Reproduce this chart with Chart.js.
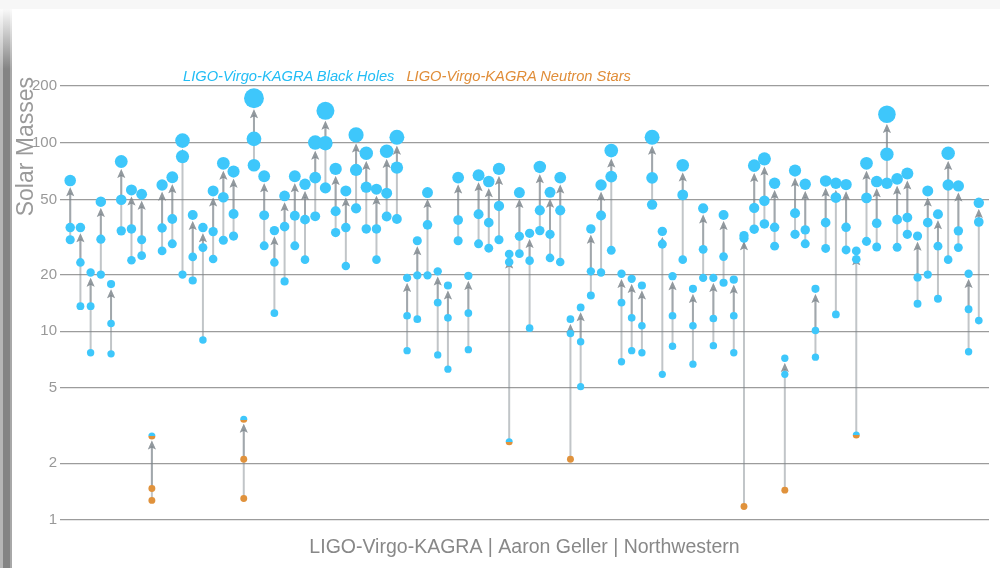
<!DOCTYPE html>
<html>
<head>
<meta charset="utf-8">
<title>Masses in the Stellar Graveyard</title>
<script src="https://cdn.jsdelivr.net/npm/chart.js@4.4.1/dist/chart.umd.min.js"></script>
<style>
    html, body { margin: 0; padding: 0; background: #fff; }
    body { width: 1000px; height: 568px; position: relative; overflow: hidden; font-family: "Liberation Sans", Arial, sans-serif; }
    #top-edge { position: absolute; left: 0; top: 0; width: 1000px; height: 9px; background: #f7f7f7; }
    #side-edge { position: absolute; left: 0; top: 9px; width: 12px; height: 559px;
        background: linear-gradient(to right, #b6b6b6 0, #b6b6b6 3px, #848484 3px, #848484 10px, #a8a8a8 10px); }
    #side-fade { position: absolute; left: 0; top: 9px; width: 12px; height: 60px;
        background: linear-gradient(to bottom, rgba(255,255,255,0.95), rgba(255,255,255,0)); }
    #graveyard { position: absolute; left: 0; top: 0; }
    #legend { position: absolute; left: 183px; top: 67px; font-size: 14.7px; line-height: 18px; font-style: italic; white-space: nowrap; }
    #legend .bh { color: #22bdf5; }
    #legend .ns { color: #e08d38; margin-left: 12px; }
</style>
</head>
<body>
<div id="top-edge"></div>
<div id="side-edge"></div>
<div id="side-fade"></div>
<canvas id="graveyard" width="1000" height="568"></canvas>
<div id="legend"><span class="bh">LIGO-Virgo-KAGRA Black Holes</span><span class="ns">LIGO-Virgo-KAGRA Neutron Stars</span></div>

<script>
// primary mass, secondary mass and remnant mass of each merger, in solar masses
const m1 = [
    35.5, 23.2, 13.6, 30.8, 11.0, 49.8, 34.9, 30.6, 1.47, 35.3,
    39.4, 84.4, 24.8, 27.8, 33.8, 51.4, 41.9, 2.10, 104.8, 41.2,
    23.2, 35.9, 41.0, 39.1, 65.3, 99.4, 43.3, 35.5, 71.7, 58.1,
    34.9, 54.0, 73.8, 12.1, 19.8, 36.7, 14.2, 11.8, 38.9, 12.5,
    41.8, 37.7, 46.2, 23.3, 31.9, 23.7, 43.8, 32.7, 43.8, 9.73,
    8.82, 20.8, 41.1, 66.1, 14.2, 11.8, 10.7, 65.1, 29.0, 12.1,
    52.9, 10.7, 27.2, 11.7, 24.9, 12.1, 31.2, 45.1, 49.3, 35.6,
    5.92, 42.3, 34.5, 10.1, 37.7, 51.2, 35.6, 24.1, 51.0, 37.4,
    86.9, 39.1, 40.1, 19.3, 37.7, 28.3, 59.7, 34.1, 13.1, 38.0
];
const m2 = [
    30.6, 13.6, 7.7, 20.0, 7.6, 34.1, 23.8, 25.2, 1.27, 26.7,
    29.1, 20.0, 18.6, 9.0, 24.2, 30.4, 32.0, 1.30, 75.9, 28.4,
    12.5, 18.4, 28.4, 24.0, 40.7, 57.6, 33.4, 22.2, 44.9, 34.9,
    24.0, 40.6, 39.4, 7.9, 11.6, 19.8, 7.5, 6.3, 30.2, 8.0,
    29.1, 27.6, 30.6, 2.60, 25.8, 10.4, 34.2, 24.5, 23.3, 2.10,
    5.09, 15.5, 20.5, 26.9, 6.9, 7.9, 7.7, 47.0, 5.92, 8.33,
    24.0, 6.7, 19.2, 8.4, 18.1, 7.7, 1.18, 34.8, 37.1, 28.3,
    1.44, 32.7, 29.1, 7.3, 27.5, 12.3, 27.0, 2.82, 30.0, 28.0,
    61.0, 27.9, 32.7, 14.0, 20.0, 14.9, 24.0, 27.8, 7.8, 11.4
];
const mFinal = [
    63.0, 35.5, 20.5, 48.7, 17.8, 79.5, 56.2, 53.3, 2.79, 59.7,
    65.6, 102.6, 41.4, 35.5, 55.5, 77.8, 70.3, 3.42, 172.0, 66.4,
    34.2, 52.2, 66.4, 60.2, 100.2, 147.5, 72.6, 55.5, 110.0, 88.0,
    56.7, 90.1, 106.9, 19.2, 30.2, 54.4, 20.8, 17.5, 65.3, 19.7,
    67.2, 62.2, 72.6, 25.7, 54.4, 33.1, 74.4, 54.6, 65.3, 11.6,
    13.4, 34.9, 59.7, 90.9, 20.2, 19.0, 17.5, 106.9, 33.9, 19.6,
    75.9, 16.8, 44.9, 19.2, 41.4, 18.8, 32.2, 75.6, 82.1, 61.0,
    7.2, 71.2, 60.2, 16.8, 62.7, 61.0, 60.0, 26.7, 77.8, 62.2,
    141.5, 64.3, 68.6, 32.0, 55.5, 41.8, 88.0, 59.0, 20.2, 48.0
];
const yTicks = [1, 2, 5, 10, 20, 50, 100, 200];

const BH_BLUE = '#3ec7fb';
const NS_ORANGE = '#e0923c';

Chart.defaults.font.family = '"Liberation Sans", Arial, sans-serif';

function dotRadius(m) {
    return 3.4 + 0.038 * m;
}

// neutron stars orange, black holes blue, mass-gap objects get both
function dotColor(c) {
    if (!c.raw) return BH_BLUE;
    const m = c.raw.y;
    if (m < 2.3) return NS_ORANGE;
    if (m > 3.5) return BH_BLUE;
    const py = c.chart.scales.y ? c.chart.scales.y.getPixelForValue(m) : NaN;
    if (!isFinite(py)) return BH_BLUE;
    const r = dotRadius(m);
    const g = c.chart.ctx.createLinearGradient(0, py - r, 0, py + r);
    g.addColorStop(0, BH_BLUE);
    g.addColorStop(0.55, BH_BLUE);
    g.addColorStop(0.55, NS_ORANGE);
    g.addColorStop(1, NS_ORANGE);
    return g;
}

const components = [];
m1.forEach((m, i) => {
    components.push({ x: i, y: m });
    components.push({ x: i, y: m2[i] });
});
const remnants = mFinal.map((m, i) => ({ x: i, y: m }));

// grey arrows from each progenitor up to the remnant
const mergerArrows = {
    id: 'mergerArrows',
    beforeDatasetsDraw(chart) {
        const { ctx, scales: { x, y } } = chart;
        ctx.save();
        mFinal.forEach((mf, i) => {
            const px = x.getPixelForValue(i);
            const tip = y.getPixelForValue(mf) + dotRadius(mf) + 1;
            [m1[i], m2[i]].forEach(m => {
                const py = y.getPixelForValue(m);
                ctx.strokeStyle = 'rgba(125,133,140,0.48)';
                ctx.lineWidth = 2;
                ctx.beginPath();
                ctx.moveTo(px, py);
                ctx.lineTo(px, tip + 6);
                ctx.stroke();
                ctx.fillStyle = 'rgba(125,133,140,0.6)';
                ctx.beginPath();
                ctx.moveTo(px, tip);
                ctx.lineTo(px - 4, tip + 9);
                ctx.lineTo(px, tip + 7);
                ctx.lineTo(px + 4, tip + 9);
                ctx.closePath();
                ctx.fill();
            });
        });
        ctx.restore();
    }
};

const pointStyle = {
    pointRadius: c => (c.raw ? dotRadius(c.raw.y) : 3),
    pointHoverRadius: c => (c.raw ? dotRadius(c.raw.y) : 3),
    pointBackgroundColor: dotColor,
    pointBorderWidth: 0,
    clip: false
};

const graveyardChart = new Chart(document.getElementById('graveyard').getContext('2d'), {
    type: 'scatter',
    data: {
        datasets: [
            { label: 'Progenitors', data: components, ...pointStyle },
            { label: 'Remnants', data: remnants, ...pointStyle }
        ]
    },
    options: {
        responsive: false,
        animation: false,
        layout: { padding: { top: 77, right: 11, bottom: 0, left: 0 } },
        plugins: {
            legend: { display: false },
            tooltip: { enabled: false }
        },
        scales: {
            x: {
                type: 'linear',
                min: -1,
                max: 90,
                grid: { display: false },
                border: { display: false },
                ticks: { display: false },
                title: {
                    display: true,
                    text: 'LIGO-Virgo-KAGRA | Aaron Geller | Northwestern',
                    color: '#888',
                    font: { size: 19.5 },
                    padding: { top: 0, bottom: 9 }
                },
                afterFit: scale => { scale.height = 48; }
            },
            y: {
                type: 'logarithmic',
                min: 1,
                max: 223,
                afterBuildTicks: scale => { scale.ticks = yTicks.map(v => ({ value: v })); },
                grid: { color: '#9c9c9c', lineWidth: 1.3, drawTicks: false },
                border: { display: false },
                ticks: { color: '#999', font: { size: 15 }, padding: 3, callback: v => String(v) },
                title: {
                    display: true,
                    text: 'Solar Masses',
                    align: 'end',
                    color: '#9a9a9a',
                    font: { size: 23 },
                    padding: { top: 13, bottom: 0 }
                },
                afterFit: scale => { scale.width = 60; }
            }
        }
    },
    plugins: [mergerArrows]
});
</script>
</body>
</html>
